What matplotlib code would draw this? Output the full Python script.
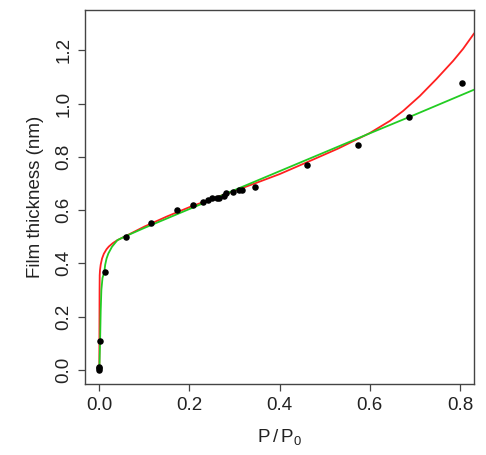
import matplotlib
matplotlib.use('Agg')
import matplotlib.pyplot as plt

plt.rcParams['font.family'] = ['Liberation Sans', 'DejaVu Sans']
plt.rcParams['mathtext.fontset'] = 'custom'
plt.rcParams['mathtext.rm'] = 'Liberation Sans'
plt.rcParams['mathtext.default'] = 'regular'

# measured points
p_obs = [0.0, 0.0, 0.0, 0.002, 0.012, 0.059, 0.115, 0.172, 0.207, 0.230, 0.241,
         0.251, 0.260, 0.266, 0.276, 0.282, 0.297, 0.309, 0.316, 0.345, 0.460,
         0.574, 0.688, 0.804]
t_obs = [0.0, 0.006, 0.012, 0.109, 0.369, 0.498, 0.553, 0.600, 0.619, 0.630, 0.639,
         0.645, 0.645, 0.647, 0.653, 0.663, 0.666, 0.675, 0.675, 0.688, 0.771,
         0.846, 0.950, 1.077]

# fitted curves
p_red = [0.0, 0.0002, 0.0005, 0.0008, 0.0015, 0.003, 0.006, 0.010, 0.016, 0.021,
         0.030, 0.040, 0.058, 0.10, 0.15, 0.20, 0.25, 0.30, 0.345, 0.40, 0.46,
         0.53, 0.60, 0.645, 0.674, 0.711, 0.748, 0.785, 0.807, 0.826, 0.831]
t_red = [0.0, 0.15, 0.30, 0.355, 0.375, 0.395, 0.418, 0.436, 0.453, 0.463,
         0.476, 0.487, 0.502, 0.538, 0.576, 0.611, 0.642, 0.672, 0.700, 0.735,
         0.779, 0.831, 0.889, 0.935, 0.972, 1.028, 1.092, 1.160, 1.205, 1.250,
         1.262]

p_green = [0.0, 0.0017, 0.003, 0.0045, 0.007, 0.011, 0.013, 0.016, 0.020, 0.028,
           0.040, 0.057, 0.10, 0.20, 0.30, 0.40, 0.50, 0.60, 0.70, 0.833]
t_green = [0.0, 0.109, 0.22, 0.30, 0.345, 0.367, 0.395, 0.418, 0.437, 0.462,
           0.487, 0.501, 0.533, 0.604, 0.675, 0.746, 0.817, 0.888, 0.958, 1.053]

x_ticks = [0.0, 0.2, 0.4, 0.6, 0.8]
y_ticks = [0.0, 0.2, 0.4, 0.6, 0.8, 1.0, 1.2]

fig = plt.figure(figsize=(4.86, 4.55), dpi=100)
ax = fig.add_axes([0.175, 0.156, 0.800, 0.822])

ax.plot(p_red, t_red, color='#FF2020', lw=1.3, zorder=2)
ax.plot(p_green, t_green, color='#22CC22', lw=1.3, zorder=3)
ax.scatter(p_obs, t_obs, s=22, color='black', zorder=4, linewidths=0)

ax.set_xlim(-0.0317, 0.831)
ax.set_ylim(-0.053, 1.351)
ax.set_xticks(x_ticks)
ax.set_xticklabels([f'{v:.1f}' for v in x_ticks])
ax.set_yticks(y_ticks)
ax.set_yticklabels([f'{v:.1f}' for v in y_ticks], rotation=90, va='center')

for s in ax.spines.values():
    s.set_color('#444444')
    s.set_linewidth(1.0)
ax.tick_params(direction='out', length=5, width=0.9, color='#444444',
               labelsize=13.5, labelcolor='#222222', pad=4)

ax.set_xlabel(r'$P\,/\,P_0$', fontsize=13.5, color='#222222', labelpad=10)
ax.set_ylabel('Film thickness (nm)', fontsize=13.5, color='#222222', labelpad=8)

fig.savefig('out.png', dpi=100)
